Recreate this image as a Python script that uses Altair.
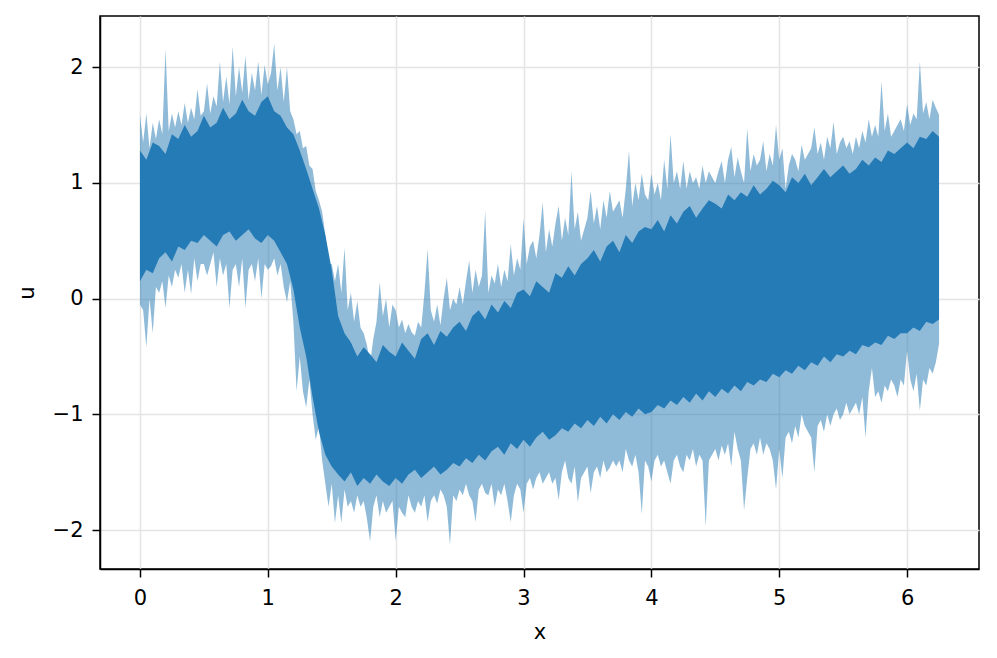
import altair as alt
import numpy as np
import pandas as pd

# Outer envelope of the ensemble (light, spiky edges), sampled every 0.025 in x from 0 to 6.25
outer_hi = [
    1.59, 1.35, 1.60, 1.30, 1.52, 1.38, 1.55, 1.42, 2.16, 1.45,
    1.60, 1.48, 1.62, 1.50, 1.69, 1.52, 1.65, 1.55, 1.81, 1.58,
    1.62, 1.86, 1.60, 1.75, 1.66, 2.05, 1.70, 1.92, 1.68, 2.18,
    1.75, 2.00, 1.78, 2.10, 1.72, 1.95, 1.80, 2.05, 1.76, 2.02,
    1.85, 1.95, 2.20, 1.80, 2.00, 1.70, 2.00, 1.62, 1.55, 1.42,
    1.45, 1.30, 1.32, 1.15, 1.12, 0.93, 0.85, 0.75, 0.55, 0.30,
    0.30, 0.15, 0.30, 0.05, 0.44, -0.10, 0.05, -0.20, -0.02, -0.25,
    -0.30, -0.40, -0.56, -0.35, -0.20, 0.14, -0.15, 0.00, -0.25, -0.05,
    -0.10, -0.25, -0.18, -0.30, -0.22, -0.29, -0.32, -0.20, -0.25, 0.05,
    0.43, -0.10, -0.20, -0.05, -0.23, 0.00, 0.18, -0.10, 0.00, -0.05,
    0.10, -0.05, 0.15, 0.33, 0.05, 0.25, 0.10, 0.20, 0.76, 0.05,
    0.20, 0.13, 0.30, 0.10, 0.25, 0.15, 0.47, 0.20, 0.35, 0.25,
    0.69, 0.30, 0.45, 0.50, 0.35, 0.55, 0.83, 0.40, 0.60, 0.45,
    0.65, 0.80, 0.50, 0.70, 0.55, 1.10, 0.60, 0.75, 0.50, 0.60,
    0.70, 0.93, 0.65, 0.80, 0.60, 0.85, 0.70, 0.93, 0.75, 0.80,
    0.85, 0.70, 0.95, 1.28, 0.80, 1.00, 0.85, 1.08, 0.90, 0.85,
    1.08, 0.90, 1.00, 0.85, 1.20, 0.95, 1.42, 1.00, 1.10, 0.95,
    1.19, 0.95, 1.10, 1.00, 1.05, 0.95, 1.15, 1.00, 1.10, 1.05,
    1.00, 1.10, 1.19, 1.00, 1.20, 1.31, 1.05, 1.22, 1.10, 1.00,
    1.47, 1.10, 1.25, 1.15, 1.20, 1.36, 1.10, 1.25, 1.15, 1.50,
    1.20, 1.30, 0.95, 1.15, 1.25, 1.20, 1.10, 1.33, 1.20, 1.25,
    1.30, 1.48, 1.25, 1.35, 1.20, 1.40, 1.30, 1.53, 1.25, 1.35,
    1.40, 1.30, 1.36, 1.25, 1.40, 1.30, 1.45, 1.35, 1.55, 1.40,
    1.50, 1.40, 1.88, 1.45, 1.60, 1.40, 1.45, 1.50, 1.55, 1.45,
    1.68, 1.50, 1.60, 1.55, 2.05, 1.60, 1.70, 1.55, 1.72, 1.65,
    1.59,
]
outer_lo = [
    -0.05, -0.10, -0.42, 0.00, -0.30, 0.10, 0.05, 0.15, -0.08, 0.20,
    0.10, 0.25, 0.18, 0.30, 0.05, 0.25, 0.04, 0.35, 0.15, 0.30,
    0.30, 0.20, 0.30, 0.40, 0.10, 0.35, 0.20, 0.30, -0.08, 0.25,
    0.30, 0.10, 0.35, -0.08, 0.25, 0.30, 0.15, 0.35, 0.00, 0.30,
    0.25, 0.28, 0.35, 0.20, 0.30, 0.10, -0.03, 0.15, -0.20, -0.80,
    -0.50, -0.80, -0.94, -0.70, -1.00, -1.22, -1.10, -1.40, -1.60, -1.80,
    -1.60, -1.94, -1.70, -1.94, -1.65, -1.80, -1.75, -1.85, -1.70, -1.80,
    -1.75, -1.90, -2.10, -1.80, -1.70, -1.89, -1.75, -1.85, -1.80, -1.75,
    -2.09, -1.80, -1.85, -1.89, -1.70, -1.80, -1.85, -1.75, -1.80, -1.70,
    -1.93, -1.75, -1.70, -1.77, -1.65, -1.70, -1.80, -2.13, -1.70, -1.75,
    -1.65, -1.70, -1.60, -1.70, -1.75, -1.93, -1.65, -1.60, -1.68, -1.70,
    -1.60, -1.80, -1.65, -1.70, -1.60, -1.75, -1.93, -1.70, -1.60, -1.65,
    -1.85, -1.60, -1.55, -1.65, -1.55, -1.50, -1.60, -1.55, -1.50, -1.60,
    -1.55, -1.74, -1.50, -1.40, -1.55, -1.60, -1.45, -1.76, -1.55, -1.50,
    -1.45, -1.68, -1.50, -1.45, -1.55, -1.40, -1.50, -1.46, -1.40, -1.45,
    -1.40, -1.50, -1.30, -1.40, -1.45, -1.35, -1.50, -1.86, -1.40, -1.45,
    -1.58, -1.40, -1.35, -1.45, -1.40, -1.50, -1.60, -1.40, -1.35, -1.45,
    -1.50, -1.35, -1.40, -1.30, -1.45, -1.35, -1.40, -1.97, -1.40, -1.35,
    -1.30, -1.40, -1.27, -1.35, -1.25, -1.45, -1.15, -1.30, -1.40, -1.83,
    -1.55, -1.30, -1.25, -1.35, -1.20, -1.35, -1.25, -1.30, -1.40, -1.65,
    -1.30, -1.55, -1.20, -1.15, -1.25, -1.10, -1.20, -1.00, -1.10, -1.15,
    -1.20, -1.50, -1.10, -1.05, -1.15, -1.00, -1.10, -1.00, -0.95, -1.05,
    -1.00, -0.90, -1.00, -0.95, -0.90, -1.00, -0.85, -1.20, -0.80, -0.60,
    -0.85, -0.80, -0.90, -0.75, -0.80, -0.70, -0.75, -0.85, -0.70, -0.75,
    -0.45, -0.70, -0.80, -0.65, -0.97, -0.70, -0.75, -0.60, -0.65, -0.55,
    -0.39,
]

# Dense core of the ensemble, sampled every 0.05 in x from 0 to 6.25
core_hi = [
    1.28, 1.20, 1.35, 1.32, 1.25, 1.42, 1.38, 1.50, 1.40, 1.45,
    1.58, 1.48, 1.52, 1.65, 1.55, 1.60, 1.72, 1.62, 1.58, 1.70,
    1.75, 1.62, 1.58, 1.48, 1.42, 1.28, 1.12, 0.95, 0.78, 0.55,
    0.25, -0.15, -0.30, -0.38, -0.50, -0.42, -0.48, -0.55, -0.40, -0.46,
    -0.50, -0.38, -0.45, -0.52, -0.35, -0.30, -0.40, -0.28, -0.33, -0.25,
    -0.20, -0.28, -0.15, -0.10, -0.18, -0.05, -0.12, -0.02, -0.08, 0.05,
    0.08, 0.02, 0.15, 0.10, 0.05, 0.22, 0.18, 0.28, 0.20, 0.30,
    0.35, 0.42, 0.32, 0.45, 0.50, 0.40, 0.55, 0.48, 0.58, 0.62,
    0.60, 0.68, 0.58, 0.72, 0.65, 0.75, 0.80, 0.70, 0.78, 0.85,
    0.82, 0.78, 0.90, 0.85, 0.92, 0.88, 0.98, 0.90, 0.95, 1.02,
    0.98, 0.92, 1.05, 1.00, 1.08, 0.98, 1.05, 1.12, 1.05, 1.10,
    1.15, 1.08, 1.12, 1.20, 1.15, 1.22, 1.18, 1.28, 1.25, 1.30,
    1.35, 1.30, 1.40, 1.38, 1.45, 1.40,
]
core_lo = [
    0.15, 0.25, 0.22, 0.35, 0.40, 0.32, 0.45, 0.42, 0.50, 0.48,
    0.55, 0.50, 0.45, 0.55, 0.58, 0.50, 0.55, 0.60, 0.52, 0.48,
    0.55, 0.50, 0.40, 0.30, 0.08, -0.25, -0.50, -0.85, -1.15, -1.35,
    -1.45, -1.52, -1.58, -1.50, -1.62, -1.55, -1.60, -1.52, -1.58, -1.62,
    -1.55, -1.60, -1.52, -1.48, -1.55, -1.50, -1.45, -1.52, -1.48, -1.42,
    -1.45, -1.38, -1.42, -1.35, -1.40, -1.32, -1.28, -1.35, -1.25, -1.30,
    -1.22, -1.28, -1.20, -1.15, -1.22, -1.18, -1.12, -1.15, -1.08, -1.12,
    -1.05, -1.10, -1.02, -1.08, -1.00, -1.05, -0.98, -1.02, -0.95, -1.00,
    -0.98, -0.92, -0.95, -0.88, -0.92, -0.85, -0.90, -0.82, -0.88, -0.80,
    -0.85, -0.78, -0.82, -0.75, -0.80, -0.72, -0.75, -0.70, -0.72, -0.65,
    -0.68, -0.62, -0.65, -0.58, -0.62, -0.55, -0.58, -0.50, -0.55, -0.48,
    -0.50, -0.45, -0.48, -0.40, -0.42, -0.38, -0.40, -0.32, -0.35, -0.30,
    -0.30, -0.25, -0.28, -0.20, -0.22, -0.18,
]

x_ticks = [0, 1, 2, 3, 4, 5, 6]
y_ticks = [-2, -1, 0, 1, 2]

x_outer = np.round(np.arange(len(outer_hi)) * 0.025, 3)
x_core = np.round(np.arange(len(core_hi)) * 0.05, 3)

outer_df = pd.DataFrame({"x": x_outer, "hi": outer_hi, "lo": outer_lo})
core_df = pd.DataFrame({"x": x_core, "hi": core_hi, "lo": core_lo})

FONT = "DejaVu Sans"
BLUE = "#1f77b4"

x_scale = alt.Scale(domain=[-0.3125, 6.5625], nice=False, zero=False)
y_scale = alt.Scale(domain=[-2.337, 2.443], nice=False, zero=False)

x_axis = alt.Axis(values=x_ticks, title="x", format="d", grid=True)
y_axis = alt.Axis(values=y_ticks, title="u", format="d", grid=True)

outer = alt.Chart(outer_df).mark_area(color=BLUE, opacity=0.5, interpolate="linear").encode(
    x=alt.X("x:Q", scale=x_scale, axis=x_axis),
    y=alt.Y("hi:Q", scale=y_scale, axis=y_axis),
    y2="lo:Q",
)

core = alt.Chart(core_df).mark_area(color=BLUE, opacity=0.95, interpolate="linear").encode(
    x=alt.X("x:Q", scale=x_scale),
    y=alt.Y("hi:Q", scale=y_scale),
    y2="lo:Q",
)

chart = alt.layer(outer, core).properties(
    width=879,
    height=553,
    autosize=alt.AutoSizeParams(type="none"),
    padding={"left": 92, "top": 8, "right": 10, "bottom": 81},
    background="white",
).configure_axis(
    domain=True,
    domainColor="black",
    domainWidth=1.5,
    ticks=True,
    tickColor="black",
    tickWidth=1.5,
    tickSize=8,
    labelFont=FONT,
    labelFontSize=21,
    labelColor="black",
    titleFont=FONT,
    titleFontSize=21,
    titleFontWeight="normal",
    titleColor="black",
    gridColor="#e4e4e4",
    gridWidth=1.5,
).configure_axisX(
    labelPadding=10,
    titlePadding=13,
).configure_axisY(
    labelPadding=9,
    titlePadding=15,
).configure_view(
    stroke="black", strokeWidth=1.5, fill="white"
)

chart.save("out.html", embed_options={"renderer": "svg", "actions": False})
